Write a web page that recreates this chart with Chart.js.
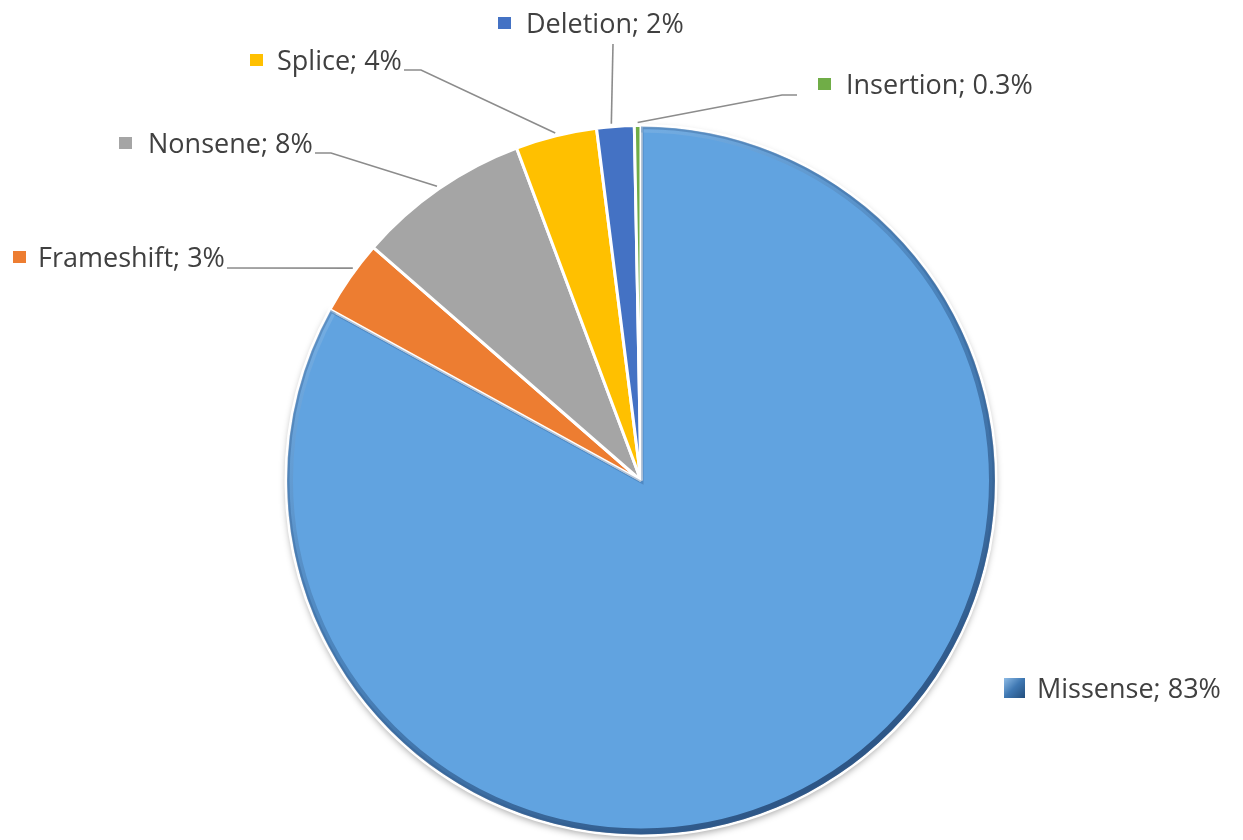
<!DOCTYPE html>
<html lang="en">
<head>
  <meta charset="UTF-8">
  <title>Mutation types</title>
  <style>
    html, body { margin: 0; padding: 0; background: #fff; }
    #wrap { width: 1243px; height: 840px; }
  </style>
</head>
<body>
  <div id="wrap"><canvas id="pieChart" width="1243" height="840"></canvas></div>

  <script src="https://cdn.jsdelivr.net/npm/chart.js"></script>
  <script>
    // data
    const categories = ['Missense', 'Frameshift', 'Nonsene', 'Splice', 'Deletion', 'Insertion'];
    const shares = [83.0, 3.4, 7.9, 3.7, 1.7, 0.3];
    const sliceColors = ['#61a3e0', '#ed7d31', '#a5a5a5', '#ffc000', '#4472c4', '#70ad47'];

    // label layout: marker x, text x, text baseline, leader start / bend, where on the slice arc it lands (0..1)
    const labelSpots = [
      { mx: 1004, tx: 1037, base: 698, from: null, bend: null, at: 0.5 },
      { mx: 13, tx: 38, base: 267, from: [227, 268], bend: null, at: 0.62 },
      { mx: 119, tx: 148, base: 153, from: [315, 153], bend: [331, 153], at: 0.5 },
      { mx: 250, tx: 277, base: 70, from: [404, 70], bend: [421, 70], at: 0.5 },
      { mx: 498, tx: 526, base: 33, from: [613, 44], bend: null, at: 0.4 },
      { mx: 818, tx: 846, base: 94, from: [797, 95], bend: [782, 95], at: 0.5 }
    ];

    function fmtShare(v) {
      return v < 1 ? v.toFixed(1) + '%' : Math.round(v) + '%';
    }

    function slicePath(ctx, p, r) {
      ctx.beginPath();
      ctx.moveTo(p.x, p.y);
      ctx.arc(p.x, p.y, r, p.startAngle, p.endAngle);
      ctx.closePath();
    }

    // soft shadow under, shaded rim on top of the big slice
    const bevel = {
      id: 'bevel',
      beforeDatasetsDraw(chart) {
        const p = chart.getDatasetMeta(0).data[0].getProps(['x', 'y', 'startAngle', 'endAngle', 'outerRadius'], true);
        const ctx = chart.ctx;
        ctx.save();
        ctx.shadowColor = 'rgba(0, 0, 0, 0.35)';
        ctx.shadowBlur = 7;
        ctx.shadowOffsetY = 3;
        ctx.fillStyle = sliceColors[0];
        slicePath(ctx, p, p.outerRadius);
        ctx.fill();
        ctx.restore();
      },
      afterDatasetsDraw(chart) {
        const p = chart.getDatasetMeta(0).data[0].getProps(['x', 'y', 'startAngle', 'endAngle', 'outerRadius'], true);
        const ctx = chart.ctx;
        const r = p.outerRadius;
        ctx.save();
        slicePath(ctx, p, r - 1);
        ctx.clip();
        const g = ctx.createLinearGradient(p.x - r * 0.6, p.y - r * 0.8, p.x + r * 0.5, p.y + r);
        g.addColorStop(0, 'rgba(150, 200, 245, 0.5)');
        g.addColorStop(0.45, 'rgba(50, 95, 145, 0.45)');
        g.addColorStop(1, 'rgba(35, 70, 115, 0.9)');
        ctx.lineWidth = 14;
        ctx.strokeStyle = g;
        ctx.beginPath();
        ctx.arc(p.x, p.y, r, p.startAngle, p.endAngle);
        ctx.stroke();
        ctx.lineWidth = 5;
        ctx.strokeStyle = 'rgba(45, 90, 140, 0.35)';
        slicePath(ctx, p, r - 1);
        ctx.stroke();
        ctx.restore();
      }
    };

    const pieLabels = {
      id: 'pieLabels',
      afterDraw(chart) {
        const ctx = chart.ctx;
        const meta = chart.getDatasetMeta(0);
        ctx.save();
        ctx.font = '27px "Open Sans"';
        ctx.textBaseline = 'alphabetic';
        ctx.textAlign = 'left';
        meta.data.forEach((arc, i) => {
          const s = labelSpots[i];
          const p = arc.getProps(['x', 'y', 'startAngle', 'endAngle', 'outerRadius'], true);
          const cy = s.base - 10;

          // marker
          if (i === 0) {
            const g = ctx.createLinearGradient(s.mx, cy - 10, s.mx + 20, cy + 10);
            g.addColorStop(0, '#8fbce6');
            g.addColorStop(0.5, '#3f78b3');
            g.addColorStop(1, '#24507f');
            ctx.fillStyle = g;
            ctx.fillRect(s.mx, cy - 10, 21, 20);
          } else {
            ctx.fillStyle = sliceColors[i];
            ctx.fillRect(s.mx, cy - 6, 13, 12);
          }

          // text
          ctx.fillStyle = '#404040';
          ctx.fillText(categories[i] + '; ' + fmtShare(shares[i]), s.tx, s.base);

          // leader line
          if (s.from) {
            const a = p.startAngle + (p.endAngle - p.startAngle) * s.at;
            const ex = p.x + Math.cos(a) * (p.outerRadius + 3);
            const ey = p.y + Math.sin(a) * (p.outerRadius + 3);
            ctx.beginPath();
            ctx.strokeStyle = '#8c8c8c';
            ctx.lineWidth = 1.6;
            ctx.moveTo(s.from[0], s.from[1]);
            if (s.bend) ctx.lineTo(s.bend[0], s.bend[1]);
            ctx.lineTo(ex, ey);
            ctx.stroke();
          }
        });
        ctx.restore();
      }
    };

    const ctx = document.getElementById('pieChart').getContext('2d');
    new Chart(ctx, {
      type: 'pie',
      data: {
        labels: categories,
        datasets: [{
          data: shares,
          backgroundColor: sliceColors,
          borderColor: '#ffffff',
          borderWidth: 3
        }]
      },
      options: {
        responsive: false,
        animation: false,
        layout: { padding: { top: 124, bottom: 3, left: 39, right: 0 } },
        plugins: {
          legend: { display: false },
          tooltip: { enabled: false }
        }
      },
      plugins: [bevel, pieLabels]
    });
  </script>
</body>
</html>
